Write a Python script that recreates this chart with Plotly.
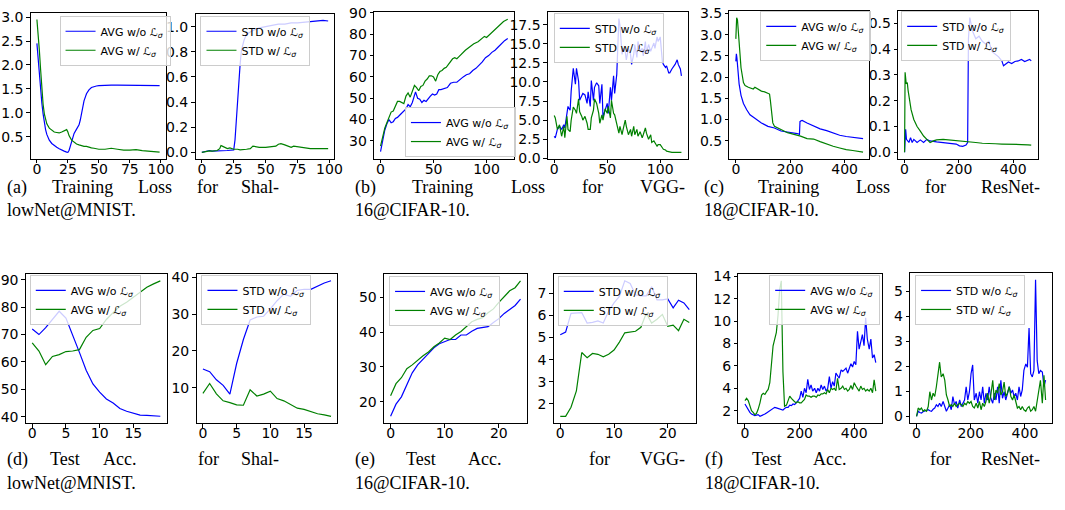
import plotly.graph_objects as go

W, H = 1065, 510
BLUE = '#0000ff'
GREEN = '#008000'

# ---------------- data ----------------
# (a) Training loss ShallowNet@MNIST
a_x_wo = [0,1,2,3,4,5,6,7,8,10,12,14,16,18,20,22,24,25,26,28,30,32,34,35,36,38,40,42,44,46,48,50,55,60,65,70,75,80,85,90,95,99]
a_avg_wo = [2.45,2.1,1.75,1.45,1.2,0.98,0.8,0.65,0.55,0.43,0.36,0.31,0.28,0.25,0.22,0.2,0.18,0.175,0.22,0.42,0.57,0.66,0.75,0.85,1.0,1.25,1.4,1.48,1.53,1.55,1.56,1.57,1.58,1.58,1.58,1.58,1.58,1.58,1.575,1.575,1.57,1.57]
a_x_w = a_x_wo
a_avg_w = [2.95,2.7,2.3,1.9,1.5,1.18,0.98,0.85,0.77,0.68,0.63,0.6,0.59,0.58,0.6,0.63,0.65,0.6,0.52,0.43,0.38,0.35,0.33,0.32,0.31,0.3,0.3,0.28,0.27,0.26,0.25,0.24,0.24,0.26,0.24,0.22,0.22,0.23,0.21,0.2,0.19,0.18]

ar_x_wo = [0,2,4,6,8,10,15,20,25,26,27,28,29,30,31,33,35,40,45,50,55,60,65,70,75,80,85,90,95,99]
ar_std_wo = [0.0,0.005,0.012,0.015,0.01,0.01,0.012,0.015,0.02,0.1,0.25,0.42,0.56,0.7,0.81,0.89,0.94,0.97,0.99,1.0,1.01,1.02,1.02,1.03,1.03,1.035,1.04,1.045,1.05,1.045]
ar_x_w = [0,2,4,6,8,10,12,14,15,16,18,20,22,25,28,30,35,38,40,42,45,50,55,58,60,62,65,68,70,72,75,80,85,90,95,99]
ar_std_w = [0.0,0.005,0.01,0.012,0.01,0.012,0.015,0.03,0.055,0.05,0.04,0.03,0.035,0.025,0.025,0.02,0.025,0.03,0.05,0.045,0.04,0.04,0.045,0.05,0.065,0.07,0.06,0.045,0.04,0.05,0.045,0.035,0.03,0.03,0.028,0.03]

# (b) Training loss VGG-16@CIFAR-10
b_x_wo = [0,2,4,6,8,10,12,14,16,18,20,22,24,26,28,30,32,33,35,37,39,41,43,45,47,49,51,53,55,57,60,63,66,69,72,75,78,81,84,87,90,93,96,99,102,105,108,111,114,117,120]
b_avg_wo = [25,31,35,38,40,38.5,39,40.5,41,42,43,44,45,47,46,48,52,53,50,49.5,48,49,48.5,50,51,52,51.5,52,54,54,54.5,55,57,57.5,57.5,59,60,61,61.5,63,64,65.5,67,69,70,71.5,72.5,74,75.5,77,78]
b_x_w = [0,2,4,6,8,10,12,14,16,18,20,22,24,26,28,30,32,34,36,38,40,42,44,46,48,50,52,54,56,58,60,62,64,66,68,70,72,74,76,80,84,88,92,96,98,100,104,108,112,116,120]
b_avg_w = [27.5,32,36,38.5,41,43.5,44,46,48.5,48.5,48,47.5,51,52.5,50.5,53,56,55,53.5,55.5,56,58,59,60.5,60.5,60,58,61,62.5,63,64,64.5,66,67,68.5,69,68.5,69.5,70.5,72.5,74,75.5,76.5,78,79,78.5,80.5,82.5,84.5,86,87]

br_x = [0,1,3,5,7,9,10,12,13,15,16,18,20,21,23,24,26,27,29,31,32,34,35,37,38,40,42,43,45,46,48,50,51,53,54,56,57,59,61,62,64,65,67,68,70,72,73,75,76,78,79,81,83,84,86,87,89,91,92,94,95,97,98,100,102,103,105,106,108,109,111,113,114,116,117,119,120]
br_std_wo = [2.9,2.7,3.8,4.2,3.8,4.4,4.0,5.9,6.8,6.3,8.8,11.8,9.7,11.8,10.1,7.6,8.3,8.5,8.3,7.2,8.7,6.8,10.2,7.6,9.3,9.9,9.5,7.2,9.7,5.4,6.3,7.2,5.9,9.3,7.6,10.8,8.5,11.0,18.3,17.4,13.6,14.4,14.0,12.9,14.4,13.6,12.3,13.6,14.9,13.2,15.3,14.0,14.4,13.4,15.3,13.8,14.9,14.0,14.4,15.1,14.4,15.9,15.3,15.9,12.7,12.3,11.9,12.1,11.2,11.2,11.7,12.1,12.3,12.9,12.3,11.7,10.8]
br_std_w = [5.6,5.3,3.8,4.4,2.9,4.2,2.7,5.5,3.8,3.5,5.0,6.7,6.3,5.9,7.8,6.1,5.5,5.0,5.5,4.6,3.8,3.8,5.3,6.3,7.8,7.2,5.9,4.6,5.7,5.0,6.5,5.9,6.8,5.3,7.6,5.9,5.7,4.6,3.3,4.2,3.1,3.8,5.0,4.2,3.1,3.8,2.9,4.2,3.1,3.8,2.9,3.5,2.7,3.1,4.0,3.3,2.5,3.1,2.1,2.3,2.1,1.6,1.8,1.8,1.4,1.2,1.1,0.95,0.9,0.85,0.8,0.8,0.8,0.8,0.8,0.8,0.8]

# (c) Training loss ResNet-18@CIFAR-10
c_x_wo = [0,2,4,7,12,19,28,40,52,70,94,118,142,166,190,214,226,234,236,240,244,262,286,310,334,358,382,406,430,454,468]
c_avg_wo = [2.37,2.55,2.45,2.14,1.84,1.57,1.38,1.23,1.11,1.03,0.92,0.84,0.8,0.73,0.71,0.68,0.67,0.65,0.95,0.97,0.98,0.92,0.84,0.78,0.74,0.69,0.63,0.6,0.58,0.56,0.55]
c_x_w = [0,3,6,13,19,28,34,46,64,70,82,94,106,118,124,127,132,136,142,166,190,214,238,262,286,310,334,358,382,406,430,454,468]
c_avg_w = [2.9,3.4,3.35,2.75,2.22,1.87,1.8,1.76,1.72,1.76,1.72,1.67,1.65,1.61,1.6,1.45,1.07,0.92,0.84,0.77,0.69,0.65,0.61,0.55,0.54,0.48,0.42,0.37,0.33,0.29,0.27,0.25,0.23]

cr_x_wo = [0,4,7,16,22,28,34,46,58,70,82,94,118,142,166,190,202,214,226,232,235,240,250,262,274,286,298,310,322,334,346,358,364,370,382,394,406,418,430,442,454,460,466]
cr_std_wo = [0.0,0.089,0.05,0.038,0.057,0.038,0.05,0.038,0.048,0.038,0.05,0.044,0.04,0.038,0.035,0.032,0.025,0.023,0.028,0.038,0.44,0.522,0.47,0.44,0.45,0.43,0.42,0.43,0.39,0.38,0.37,0.354,0.335,0.34,0.35,0.344,0.352,0.354,0.36,0.352,0.357,0.36,0.354]
cr_x_w = [0,2,6,10,13,18,24,34,46,58,70,82,94,106,118,142,166,190,214,238,262,286,310,334,358,382,406,430,454,466]
cr_std_w = [0.0,0.31,0.266,0.27,0.24,0.2,0.165,0.127,0.1,0.082,0.063,0.05,0.038,0.044,0.048,0.05,0.048,0.044,0.044,0.04,0.038,0.035,0.035,0.033,0.032,0.032,0.03,0.03,0.029,0.028]

# (d) Test acc ShallowNet@MNIST
d_x = [0,1,2,3,4,5,6,7,8,9,10,11,12,13,14,15,16,17,18,19]
d_avg_wo = [72,70,72.5,75.5,78.5,76,70,63.5,57,52,49,46.5,45,43,42,41.3,40.6,40.5,40.3,40.2]
d_avg_w = [67,64,59,62,62.7,63.8,64,64.5,69,71.5,72.2,75.5,78,80.3,81.8,83.6,85.7,87.3,88.5,89.6]
d_std_wo = [15.1,14.4,12.2,10.7,8.3,16.6,23.1,28.4,29.2,29.4,31.4,33.6,35.4,34.8,36.4,36.7,36.7,37.6,38.4,39.0]
d_std_w = [8.5,11.2,8.4,6.5,6.0,5.4,5.3,9.5,7.8,8.3,9.1,7.1,6.5,5.4,4.5,4.2,3.6,3.0,2.7,2.3]

# (e) Test acc VGG-16@CIFAR-10
e_x = [0,1,2,3,4,5,6,7,8,9,10,11,12,13,14,15,16,17,18,19,20,21,22,23,24]
e_avg_wo = [15.8,19.3,21.4,25,28.3,30.6,32.3,33.9,35.5,36.7,37.2,37.9,37.9,39.2,39.2,40.3,41.1,41.4,41.6,42.8,43.9,45.4,46.5,47.7,49.5]
e_avg_w = [21.7,25.2,26.9,29.5,30.6,32,33.2,34.3,35.8,36.9,38.3,37.9,39.2,40.2,41.7,43,43.7,44.2,45.6,46.7,48.6,50.3,51.9,52.8,54.8]
e_std_wo = [5.12,5.24,6.09,6.09,6.12,5.65,5.68,5.75,5.65,6.19,6.56,6.85,7.56,7.44,6.93,6.88,6.88,7.29,6.7,6.7,6.74,6.34,6.68,6.56,6.26]
e_std_w = [1.44,1.44,1.85,2.59,4.32,4.09,4.28,4.24,4.13,4.24,4.43,4.79,5.21,5.26,5.28,5.46,6.09,5.65,5.82,6.04,5.5,5.56,5.31,5.82,5.68]

# (f) Test acc ResNet-18@CIFAR-10
f_x = [0,6,12,18,24,30,36,42,48,55,61,67,73,79,85,91,97,103,109,115,121,127,133,139,145,152,158,164,170,176,182,188,194,200,206,212,218,224,230,236,242,248,255,261,267,273,279,285,291,297,303,309,315,321,327,333,339,345,352,358,364,370,376,382,388,394,400,406,412,418,424,430,436,442,448,455,461,467,473,479]
f_avg_wo = [2.6,2.3,2.05,1.85,1.7,1.6,1.56,1.6,1.65,1.5,1.55,1.65,1.7,1.8,1.9,2.0,2.1,2.25,2.3,2.25,2.2,2.15,2.1,2.05,2.2,2.3,2.3,2.5,2.45,2.6,2.55,2.7,2.9,3.1,3.75,3.2,4.0,3.6,4.8,3.9,4.3,3.75,4.0,3.6,4.0,3.75,4.3,3.9,4.2,3.75,4.0,5.05,4.0,4.6,4.2,5.35,5.05,4.9,5.65,5.5,5.65,5.8,5.35,5.8,6.2,5.9,6.4,6.1,9.1,7.5,8.3,8.8,7.8,10.3,8.4,7.5,8.4,6.7,7.0,6.3]
f_avg_w = [2.9,3.1,2.9,2.4,2.0,1.85,1.65,1.75,2.1,2.7,3.4,3.55,3.45,3.7,3.9,4.5,6.0,7.8,8.4,9.0,10.5,12.8,13.6,5.5,2.4,2.5,2.9,3.3,3.1,2.9,2.8,2.7,2.8,2.7,2.7,2.85,3.0,3.4,3.3,3.3,3.2,3.3,3.3,3.2,3.4,3.35,3.5,3.5,3.6,3.5,3.9,3.6,4.0,3.9,4.0,3.8,4.9,3.9,4.0,4.2,3.9,4.0,3.75,3.9,4.25,3.9,4.5,4.2,4.0,3.75,4.2,3.9,4.0,3.75,3.9,3.75,4.0,3.6,4.75,3.75]

fr_x = [0,6,12,18,24,30,37,43,49,55,61,67,73,79,85,91,98,104,110,116,122,128,134,140,146,152,159,165,171,177,183,189,195,201,207,213,220,226,232,238,244,250,256,262,268,274,281,287,293,299,305,311,317,323,329,335,342,348,354,360,366,372,378,384,390,396,403,409,415,421,427,433,439,445,451,457,464,470,476]
fr_std_wo = [0.0,0.2,0.15,0.13,0.18,0.2,0.22,0.26,0.22,0.2,0.28,0.33,0.46,0.39,0.52,0.39,0.59,0.39,0.2,0.33,0.46,0.26,0.79,0.46,0.59,0.33,0.65,0.39,0.52,0.65,1.18,0.65,0.98,1.7,2.05,0.65,0.92,0.52,0.98,0.65,1.18,0.52,0.92,0.65,1.18,0.72,0.52,0.92,0.65,1.18,0.52,1.44,0.72,0.98,0.65,0.92,1.18,0.92,1.05,0.79,0.92,0.65,1.18,0.79,1.05,1.83,2.09,1.96,3.53,1.7,1.57,1.83,5.45,2.22,1.7,1.83,1.77,1.18,1.44]
fr_std_w = [0.0,0.33,0.26,0.33,0.2,0.26,0.2,0.39,0.98,0.65,0.92,0.79,1.18,1.7,2.16,1.57,1.7,1.44,0.85,0.65,0.39,0.46,0.39,0.52,0.39,0.46,0.52,0.46,0.39,0.52,0.46,0.59,0.52,0.59,0.39,0.33,0.52,0.33,0.59,0.26,0.52,0.39,0.59,0.92,0.52,0.85,1.44,0.65,1.05,0.92,1.31,0.85,0.98,1.37,0.79,0.92,1.18,0.79,0.65,0.85,0.52,0.33,0.39,0.26,0.39,0.26,0.2,0.33,0.39,0.2,0.26,0.39,0.2,0.65,0.92,1.44,0.52,1.64,0.65]

N_AVG_WO = 'AVG w/o ℒ<sub><i>σ</i></sub>'
N_AVG_W = 'AVG w/ ℒ<sub><i>σ</i></sub>'
N_STD_WO = 'STD w/o ℒ<sub><i>σ</i></sub>'
N_STD_W = 'STD w/ ℒ<sub><i>σ</i></sub>'

# ---------------- layout spec (pixel boxes) ----------------
panels = [
    dict(box=(31, 7, 167, 157), xr=[-4.95, 103.95], yr=[0.036, 3.089], xt=[0, 25, 50, 75, 100],
         yt=[0.5, 1.0, 1.5, 2.0, 2.5, 3.0], yf='.1f', leg=(60, 10, 'top'),
         s=[(a_x_wo, a_avg_wo, N_AVG_WO, BLUE), (a_x_w, a_avg_w, N_AVG_W, GREEN)]),
    dict(box=(197, 8, 337, 157), xr=[-4.95, 103.95], yr=[-0.0525, 1.1025], xt=[0, 25, 50, 75, 100],
         yt=[0.0, 0.2, 0.4, 0.6, 0.8, 1.0], yf='.1f', leg=(202, 10, 'top'),
         s=[(ar_x_wo, ar_std_wo, N_STD_WO, BLUE), (ar_x_w, ar_std_w, N_STD_W, GREEN)]),
    dict(box=(377, 6, 518, 157), xr=[-6, 126], yr=[21.5, 90.5], xt=[0, 50, 100],
         yt=[30, 40, 50, 60, 70, 80, 90], yf=None, leg=(408, 155, 'bottom'),
         s=[(b_x_wo, b_avg_wo, N_AVG_WO, BLUE), (b_x_w, b_avg_w, N_AVG_W, GREEN)]),
    dict(box=(552, 6, 693, 157), xr=[-6, 126], yr=[-0.075, 19.175], xt=[0, 50, 100],
         yt=[0.0, 2.5, 5.0, 7.5, 10.0, 12.5, 15.0, 17.5], yf='.1f', leg=(558, 7, 'top'),
         s=[(br_x, br_std_wo, N_STD_WO, BLUE), (br_x, br_std_w, N_STD_W, GREEN)]),
    dict(box=(735, 5, 876, 157), xr=[-23.4, 491.4], yr=[0.07, 3.56], xt=[0, 200, 400],
         yt=[0.5, 1.0, 1.5, 2.0, 2.5, 3.0, 3.5], yf='.1f', leg=(766, 5, 'top'),
         s=[(c_x_wo, c_avg_wo, N_AVG_WO, BLUE), (c_x_w, c_avg_w, N_AVG_W, GREEN)]),
    dict(box=(905, 5, 1046, 157), xr=[-23.4, 491.4], yr=[-0.026, 0.548], xt=[0, 200, 400],
         yt=[0.0, 0.1, 0.2, 0.3, 0.4, 0.5], yf='.1f', leg=(908, 5, 'top'),
         s=[(cr_x_wo, cr_std_wo, N_STD_WO, BLUE), (cr_x_w, cr_std_w, N_STD_W, GREEN)]),
    dict(box=(26, 275, 168, 428), xr=[-0.95, 19.95], yr=[37.7, 92.1], xt=[0, 5, 10, 15],
         yt=[40, 50, 60, 70, 80, 90], yf=None, leg=(30, 276, 'top'),
         s=[(d_x, d_avg_wo, N_AVG_WO, BLUE), (d_x, d_avg_w, N_AVG_W, GREEN)]),
    dict(box=(198, 275, 340, 428), xr=[-0.95, 19.95], yr=[0.47, 40.84], xt=[0, 5, 10, 15],
         yt=[10, 20, 30, 40], yf=None, leg=(203, 276, 'top'),
         s=[(d_x, d_std_wo, N_STD_WO, BLUE), (d_x, d_std_w, N_STD_W, GREEN)]),
    dict(box=(387, 275, 531, 428), xr=[-1.2, 25.2], yr=[13.85, 56.75], xt=[0, 10, 20],
         yt=[20, 30, 40, 50], yf=None, leg=(392, 277, 'top'),
         s=[(e_x, e_avg_wo, N_AVG_WO, BLUE), (e_x, e_avg_w, N_AVG_W, GREEN)]),
    dict(box=(558, 275, 701, 428), xr=[-1.2, 25.2], yr=[1.134, 7.866], xt=[0, 10, 20],
         yt=[2, 3, 4, 5, 6, 7], yf=None, leg=(562, 277, 'top'),
         s=[(e_x, e_std_wo, N_STD_WO, BLUE), (e_x, e_std_w, N_STD_W, GREEN)]),
    dict(box=(744, 275, 889, 428), xr=[-23.95, 502.95], yr=[0.895, 14.205], xt=[0, 200, 400],
         yt=[2, 4, 6, 8, 10, 12, 14], yf=None, leg=(775, 276, 'top'),
         s=[(f_x, f_avg_wo, N_AVG_WO, BLUE), (f_x, f_avg_w, N_AVG_W, GREEN)]),
    dict(box=(917, 274, 1060, 428), xr=[-23.8, 499.8], yr=[-0.2725, 5.7225], xt=[0, 200, 400],
         yt=[0, 1, 2, 3, 4, 5], yf=None, leg=(922, 276, 'top'),
         s=[(fr_x, fr_std_wo, N_STD_WO, BLUE), (fr_x, fr_std_w, N_STD_W, GREEN)]),
]

captions = [
    (186, [("(a)", 5), ("Training", 50), ("Loss", 137), ("for", 196), ("Shal-", 241)]),
    (209, [("lowNet@MNIST.", 5)]),
    (186, [("(b)", 356), ("Training", 413), ("Loss", 513), ("for", 584), ("VGG-", 643)]),
    (209, [("16@CIFAR-10.", 356)]),
    (186, [("(c)", 707), ("Training", 762), ("Loss", 860), ("for", 930), ("ResNet-", 986)]),
    (209, [("18@CIFAR-10.", 707)]),
    (465, [("(d)", 5), ("Test", 48), ("Acc.", 102), ("for", 197), ("Shal-", 241)]),
    (489, [("lowNet@MNIST.", 5)]),
    (465, [("(e)", 356), ("Test", 407), ("Acc.", 470), ("for", 591), ("VGG-", 643)]),
    (489, [("16@CIFAR-10.", 356)]),
    (465, [("(f)", 708), ("Test", 756), ("Acc.", 817), ("for", 935), ("ResNet-", 986)]),
    (489, [("18@CIFAR-10.", 708)]),
]

# ---------------- build ----------------
fig = go.Figure()
layout = dict(width=W, height=H, autosize=False, margin=dict(l=0, r=0, t=0, b=0),
              paper_bgcolor='white', plot_bgcolor='white', showlegend=True)

tickfont = dict(family='DejaVu Sans', size=14, color='black')
for i, p in enumerate(panels):
    n = i + 1
    sfx = '' if n == 1 else str(n)
    L, T, R, B = p['box']
    common = dict(showline=True, mirror=True, linecolor='black', linewidth=1,
                  ticks='outside', ticklen=3.5, tickwidth=1, tickcolor='black',
                  showgrid=False, zeroline=False, tickfont=tickfont, fixedrange=True)
    xa = dict(domain=[L / W, R / W], range=p['xr'], anchor='y' + sfx, tickvals=p['xt'], **common)
    ya = dict(domain=[1 - B / H, 1 - T / H], range=p['yr'], anchor='x' + sfx, tickvals=p['yt'], **common)
    if p['yf']:
        ya['tickformat'] = p['yf']
    layout['xaxis' + sfx] = xa
    layout['yaxis' + sfx] = ya
    legname = 'legend' + sfx
    lx, ly, anc = p['leg']
    layout[legname] = dict(x=lx / W, y=1 - ly / H, xanchor='left', yanchor=anc,
                           xref='paper', yref='paper',
                           bgcolor='rgba(255,255,255,0.8)', bordercolor='#cccccc', borderwidth=1,
                           font=dict(family='DejaVu Sans', size=11, color='black'),
                           tracegroupgap=0, itemwidth=30)
    for xs, ys, name, col in p['s']:
        fig.add_trace(go.Scatter(x=xs, y=ys, mode='lines', name=name,
                                 line=dict(color=col, width=1.2),
                                 xaxis='x' + sfx, yaxis='y' + sfx, legend=legname))

annots = []
for yy, words in captions:
    for word, xx in words:
        annots.append(dict(text=word, x=xx / W, y=1 - yy / H, xref='paper', yref='paper',
                           xanchor='left', yanchor='middle', showarrow=False,
                           font=dict(family='Liberation Serif', size=18, color='black')))
layout['annotations'] = annots

fig.update_layout(**layout)

# pull x tick labels slightly closer to the axes (as in the reference)
for i in range(len(panels)):
    key = 'xaxis' if i == 0 else 'xaxis' + str(i + 1)
    try:
        fig.layout[key].ticklabelstandoff = -6
    except Exception:
        pass

fig.write_html('out.html', config={'displayModeBar': False},
               post_script="document.body.style.margin='0px';document.body.style.padding='0px';")
